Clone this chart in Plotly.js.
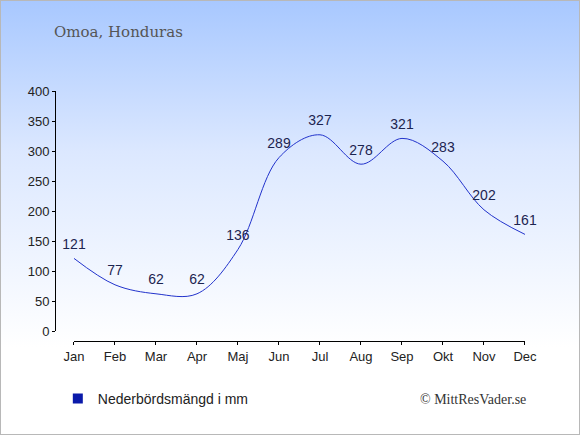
<!DOCTYPE html>
<html>
<head>
<meta charset="utf-8">
<script src="https://cdn.plot.ly/plotly-3.0.1.min.js"></script>
<style>
  html, body { margin: 0; padding: 0; }
  #wrap { width: 578px; height: 433px; border: 1px solid #b8b8b8;
          background: linear-gradient(to bottom, #a8c8ff 0%, #dce8ff 35%, #ffffff 80%, #ffffff 100%); }
  #chart { width: 578px; height: 433px; }
</style>
</head>
<body>
<div id="wrap"><div id="chart"></div></div>
<script>
const months = ["Jan","Feb","Mar","Apr","Maj","Jun","Jul","Aug","Sep","Okt","Nov","Dec"];
const rainfall = [121, 77, 62, 62, 136, 289, 327, 278, 321, 283, 202, 161];
const yTicks = [0, 50, 100, 150, 200, 250, 300, 350, 400];
const chartTitle = "Omoa, Honduras";
const seriesName = "Nederbördsmängd i mm";
const credit = "© MittResVader.se";

const lineTrace = {
  x: months.map((m, i) => i),
  y: rainfall,
  type: "scatter",
  mode: "lines+markers+text",
  text: rainfall.map(String),
  textposition: "top center",
  textfont: { family: "Liberation Sans, Arial, sans-serif", size: 14, color: "#1c2450" },
  marker: { size: 8, color: "rgba(0,0,0,0)" },
  line: { color: "#2233cc", width: 1, shape: "spline", smoothing: 1 },
  cliponaxis: false,
  showlegend: false,
  hoverinfo: "skip"
};
const legendTrace = {
  x: [null], y: [null],
  type: "scatter",
  mode: "markers",
  name: seriesName,
  marker: { symbol: "square", size: 10, color: "#0a1aaa" },
  showlegend: true
};

const layout = {
  width: 578, height: 433,
  margin: { l: 54, r: 54, t: 90, b: 93 },
  paper_bgcolor: "rgba(0,0,0,0)",
  plot_bgcolor: "rgba(0,0,0,0)",
  font: { family: "Liberation Sans, Arial, sans-serif", size: 13, color: "#222" },
  xaxis: {
    domain: [0.0404, 1],
    range: [0, 11],
    anchor: "free", position: 0,
    tickmode: "array",
    tickvals: months.map((m, i) => i),
    ticktext: months,
    showline: true, linecolor: "#000", linewidth: 1,
    ticks: "outside", ticklen: 3, tickcolor: "#000",
    showgrid: false, zeroline: false,
    tickfont: { size: 13, color: "#222" }
  },
  yaxis: {
    domain: [0.04, 1],
    range: [0, 400],
    anchor: "free", position: 0,
    tickmode: "array", tickvals: yTicks,
    showline: true, linecolor: "#000", linewidth: 1,
    ticks: "outside", ticklen: 3, tickcolor: "#000",
    showgrid: false, zeroline: false,
    tickfont: { size: 13, color: "#222" }
  },
  showlegend: true,
  legend: {
    x: 0.006, y: -0.232, xanchor: "left", yanchor: "middle",
    bgcolor: "rgba(0,0,0,0)",
    font: { family: "Liberation Sans, Arial, sans-serif", size: 14, color: "#222" }
  },
  annotations: [
    { text: chartTitle, xref: "paper", yref: "paper", x: -0.0064, y: 1.236,
      xanchor: "left", yanchor: "middle", showarrow: false,
      font: { family: "DejaVu Serif, Liberation Serif, serif", size: 15, color: "#555" } },
    { text: credit, xref: "paper", yref: "paper", x: 1.0064, y: -0.232,
      xanchor: "right", yanchor: "middle", showarrow: false,
      font: { family: "Liberation Serif, DejaVu Serif, serif", size: 14, color: "#333" } }
  ]
};

Plotly.newPlot("chart", [lineTrace, legendTrace], layout, { displayModeBar: false, staticPlot: true });
</script>
</body>
</html>
